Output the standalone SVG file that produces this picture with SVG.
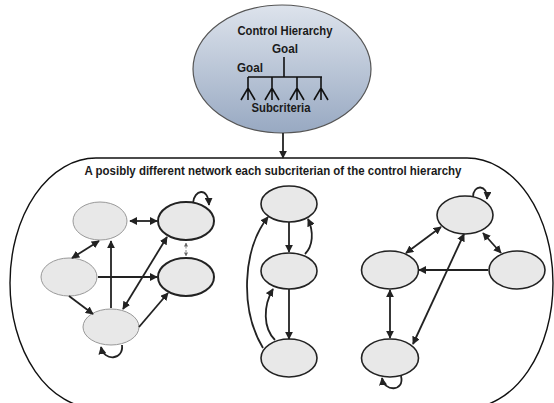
<svg xmlns="http://www.w3.org/2000/svg" width="554" height="403" viewBox="0 0 554 403">
<style>
.t{font-family:"Liberation Sans Narrow","Liberation Sans",Arial,sans-serif;font-weight:bold;fill:#1a1a1a}
.e{stroke:#222;stroke-width:1.8;fill:none}
.n1{fill:#e8e8e8;stroke:#999;stroke-width:1}
.n2{fill:#e8e8e8;stroke:#222;stroke-width:2}
.n3{fill:#e8e8e8;stroke:#222;stroke-width:1.6}
.tree{stroke:#111;stroke-width:1.6;fill:none}
</style>
<defs>
<linearGradient id="g" x1="0" y1="0" x2="0" y2="1">
<stop offset="0" stop-color="#dde3ec"/>
<stop offset="1" stop-color="#98a9c2"/>
</linearGradient>
<marker id="a" viewBox="0 0 10 10" refX="9" refY="5" markerWidth="8" markerHeight="8" markerUnits="userSpaceOnUse" orient="auto-start-reverse">
<path d="M0,0 L10,5 L0,10 z" fill="#222"/>
</marker>
<marker id="s" viewBox="0 0 10 10" refX="9" refY="5" markerWidth="4" markerHeight="4" markerUnits="userSpaceOnUse" orient="auto-start-reverse">
<path d="M0,0 L10,5 L0,10 z" fill="#666"/>
</marker>
</defs>

<g id="control-hierarchy">
<ellipse cx="282" cy="69" rx="89" ry="64" fill="url(#g)" stroke="#555" stroke-width="1.2"/>
<text class="t" x="285" y="35" font-size="12.5" text-anchor="middle" textLength="95" lengthAdjust="spacingAndGlyphs">Control Hierarchy</text>
<text class="t" x="285" y="53" font-size="12.5" text-anchor="middle" textLength="26" lengthAdjust="spacingAndGlyphs">Goal</text>
<text class="t" x="250" y="72" font-size="12.5" text-anchor="middle" textLength="26" lengthAdjust="spacingAndGlyphs">Goal</text>
<path class="tree" d="M284,57 V77 M248,77 H322 M248,77 V100 M272,77 V100 M297,77 V100 M321,77 V100 M241,100 L248,88 L255,100 M265,100 L272,88 L279,100 M290,100 L297,88 L304,100 M314,100 L321,88 L328,100"/>
<text class="t" x="281" y="112" font-size="12.5" text-anchor="middle" textLength="59" lengthAdjust="spacingAndGlyphs">Subcriteria</text>
</g>

<g id="network-frame">
<rect x="10" y="158" width="543" height="250" rx="86" ry="125" fill="none" stroke="#111" stroke-width="1.4"/>
<text class="t" x="273" y="175" font-size="12.5" text-anchor="middle" textLength="377" lengthAdjust="spacingAndGlyphs">A posibly different network each subcriterian of the control hierarchy</text>
</g>

<g id="A"><ellipse class="n1" cx="100" cy="221" rx="27" ry="19"/></g>
<g id="B"><ellipse class="n2" cx="186" cy="221" rx="28" ry="19"/></g>
<g id="C"><ellipse class="n1" cx="69" cy="277" rx="28" ry="19"/></g>
<g id="D"><ellipse class="n2" cx="186" cy="277" rx="28" ry="19"/></g>
<g id="E"><ellipse class="n1" cx="111" cy="327" rx="28" ry="18"/></g>

<g id="F"><ellipse class="n3" cx="289" cy="204" rx="28" ry="18"/></g>
<g id="G"><ellipse class="n3" cx="289" cy="271" rx="28" ry="18"/></g>
<g id="H"><ellipse class="n3" cx="289" cy="358" rx="28" ry="19"/></g>

<g id="I"><ellipse class="n3" cx="465" cy="215" rx="28" ry="19"/></g>
<g id="J"><ellipse class="n3" cx="390" cy="270" rx="28.5" ry="19"/></g>
<g id="K"><ellipse class="n3" cx="517" cy="270" rx="28" ry="19"/></g>
<g id="L"><ellipse class="n3" cx="390" cy="358" rx="28.5" ry="19"/></g>

<g id="connectors">
<path class="e" d="M283,133 V158" marker-end="url(#a)"/>
<path class="e" d="M130,221 H157" marker-start="url(#a)" marker-end="url(#a)"/>
<path class="e" d="M193,203 C194,190 208,186 209,205" marker-end="url(#a)"/>
<path d="M186,243 V256" stroke="#777" stroke-width="0.9" stroke-dasharray="2,1.5" fill="none" marker-start="url(#s)" marker-end="url(#s)"/>
<path class="e" d="M99,241 L72,258" marker-start="url(#a)" marker-end="url(#a)"/>
<path class="e" d="M98,277 H157" marker-end="url(#a)"/>
<path class="e" d="M111,308 V241" marker-end="url(#a)"/>
<path class="e" d="M69,296 L93,314" marker-end="url(#a)"/>
<path class="e" d="M123,309 L167,237" marker-start="url(#a)" marker-end="url(#a)"/>
<path class="e" d="M139,327 L168,293" marker-end="url(#a)"/>
<path class="e" d="M122,345 C124,360 104,362 101,347" marker-end="url(#a)"/>
<path class="e" d="M289,222 V252" marker-end="url(#a)"/>
<path class="e" d="M305,254 C313,246 314,232 308,219" marker-end="url(#a)"/>
<path class="e" d="M289,289 V339" marker-end="url(#a)"/>
<path class="e" d="M275,340 C263,328 263,306 273,289" marker-end="url(#a)"/>
<path class="e" d="M263,348 C240,310 242,250 268,217" marker-end="url(#a)"/>
<path class="e" d="M441,227 L406,253" marker-start="url(#a)" marker-end="url(#a)"/>
<path class="e" d="M483,233 L501,253" marker-start="url(#a)" marker-end="url(#a)"/>
<path class="e" d="M488,270 H419" marker-end="url(#a)"/>
<path class="e" d="M390,290 V338" marker-start="url(#a)" marker-end="url(#a)"/>
<path class="e" d="M464,234 L413,344" marker-start="url(#a)" marker-end="url(#a)"/>
<path class="e" d="M473,197 C473,184 488,184 487,199" marker-end="url(#a)"/>
<path class="e" d="M401,376 C405,392 384,392 382,378" marker-end="url(#a)"/>
</g>
</svg>
